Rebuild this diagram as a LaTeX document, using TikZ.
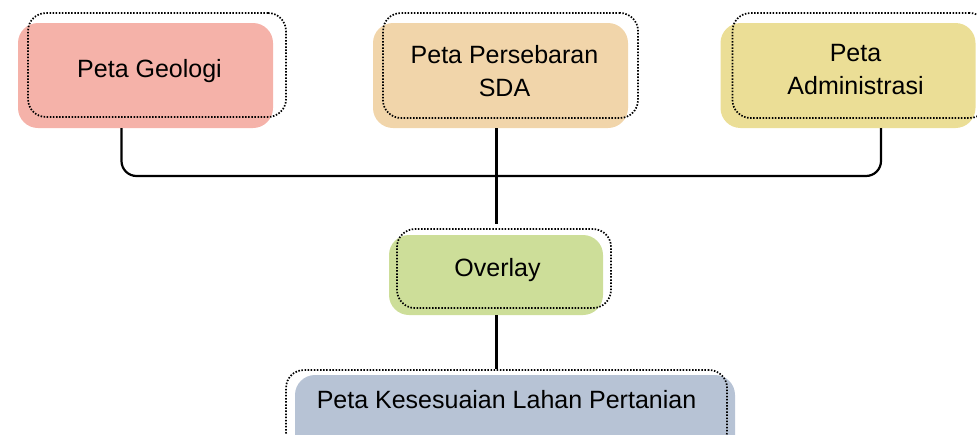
\documentclass[tikz,border=0pt]{standalone}
\usepackage{fontspec}
\setmainfont{Liberation Sans}
\definecolor{cGeo}{RGB}{245,178,169}
\definecolor{cSda}{RGB}{241,213,170}
\definecolor{cAdm}{RGB}{235,222,150}
\definecolor{cOvl}{RGB}{205,222,153}
\definecolor{cRes}{RGB}{183,195,213}
\tikzset{
  fillbox/.style={draw=none, rounded corners=20pt, inner sep=0pt, minimum width=#1},
  fillbox/.default=255pt,
  dotbox/.style={draw=black, line width=1.7pt, dash pattern=on 1.5pt off 1.6pt,
                 rounded corners=18pt, inner sep=0pt},
  lbl/.style={align=center, inner sep=0pt, font=\fontsize{25}{33}\selectfont},
  conn/.style={draw=black, line width=2.2pt},
}
\begin{document}
\begin{tikzpicture}[x=1pt, y=-1pt]
\useasboundingbox (0,0) rectangle (977,434);

% coloured boxes
\node[fillbox, fill=cGeo, minimum height=105pt] (geoF) at (145.5,75.5) {};
\node[fillbox, fill=cSda, minimum height=105pt] (sdaF) at (500.5,75.5) {};
\node[fillbox, fill=cAdm, minimum height=105pt] (admF) at (848,75.5) {};
\node[fillbox=214pt, fill=cOvl, minimum height=80pt] (ovF) at (496,275) {};
\node[fillbox=440pt, fill=cRes, minimum height=80pt] (resF) at (515,415) {};

% connectors
\coordinate (hub) at (496.5,176);
\draw[conn, rounded corners=15pt] ([xshift=-24pt]geoF.south) |- (hub);
\draw[conn, rounded corners=15pt] ([xshift=33pt]admF.south) |- (hub);

% dotted outlines
\node[dotbox, minimum width=258pt, minimum height=104pt] (geoD) at (157,65) {};
\node[dotbox, minimum width=255pt, minimum height=105pt] (sdaD) at (510.5,65.5) {};
\node[dotbox, minimum width=255pt, minimum height=105pt] (admD) at (860,65.5) {};
\node[dotbox, minimum width=214pt, minimum height=79pt] (ovD) at (504,268.5) {};
\node[dotbox, minimum width=441pt, minimum height=80pt] (resD) at (506.5,410) {};

\draw[conn] (sdaF.south -| hub) -- ([yshift=4pt]ovD.north -| hub);
\draw[conn] (ovF.south -| hub) -- (resD.north -| hub);

% labels
\node[lbl] (geo) at (149.5,71) {Peta Geologi};
\node[lbl] (sda) at (504.5,71) {Peta Persebaran\\SDA};
\node[lbl] (adm) at (855.5,70) {Peta\\Administrasi};
\node[lbl] (ovl) at (497.5,270) {Overlay};
\node[lbl] (res) at (506.5,400) {Peta Kesesuaian Lahan Pertanian};
\end{tikzpicture}
\end{document}
